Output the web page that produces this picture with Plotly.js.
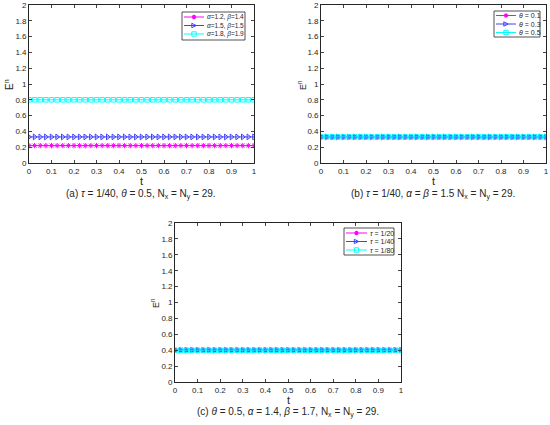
<!DOCTYPE html>
<html>
<head>
<meta charset="utf-8">
<script src="https://cdn.plot.ly/plotly-3.0.1.min.js"></script>
<style>html,body{margin:0;padding:0;background:#fff;}#chart{width:550px;height:425px;}</style>
</head>
<body>
<div id="chart"></div>
<script>
// time grid t (tau = 1/40)
const t = [0,0.025,0.05,0.075,0.1,0.125,0.15,0.175,0.2,0.225,0.25,0.275,0.3,0.325,0.35,0.375,0.4,0.425,0.45,0.475,0.5,0.525,0.55,0.575,0.6,0.625,0.65,0.675,0.7,0.725,0.75,0.775,0.8,0.825,0.85,0.875,0.9,0.925,0.95,0.975,1];

// (a) alpha/beta variations
const aE1 = [0.22,0.22,0.22,0.22,0.22,0.22,0.22,0.22,0.22,0.22,0.22,0.22,0.22,0.22,0.22,0.22,0.22,0.22,0.22,0.22,0.22,0.22,0.22,0.22,0.22,0.22,0.22,0.22,0.22,0.22,0.22,0.22,0.22,0.22,0.22,0.22,0.22,0.22,0.22,0.22,0.22];
const aE2 = [0.33,0.33,0.33,0.33,0.33,0.33,0.33,0.33,0.33,0.33,0.33,0.33,0.33,0.33,0.33,0.33,0.33,0.33,0.33,0.33,0.33,0.33,0.33,0.33,0.33,0.33,0.33,0.33,0.33,0.33,0.33,0.33,0.33,0.33,0.33,0.33,0.33,0.33,0.33,0.33,0.33];
const aE3 = [0.80,0.80,0.80,0.80,0.80,0.80,0.80,0.80,0.80,0.80,0.80,0.80,0.80,0.80,0.80,0.80,0.80,0.80,0.80,0.80,0.80,0.80,0.80,0.80,0.80,0.80,0.80,0.80,0.80,0.80,0.80,0.80,0.80,0.80,0.80,0.80,0.80,0.80,0.80,0.80,0.80];
const aNames = ['<i>α</i>=1.2, <i>β</i>=1.4','<i>α</i>=1.5, <i>β</i>=1.5','<i>α</i>=1.8, <i>β</i>=1.9'];

// (b) theta variations
const bE1 = [0.33,0.33,0.33,0.33,0.33,0.33,0.33,0.33,0.33,0.33,0.33,0.33,0.33,0.33,0.33,0.33,0.33,0.33,0.33,0.33,0.33,0.33,0.33,0.33,0.33,0.33,0.33,0.33,0.33,0.33,0.33,0.33,0.33,0.33,0.33,0.33,0.33,0.33,0.33,0.33,0.33];
const bE2 = [0.33,0.33,0.33,0.33,0.33,0.33,0.33,0.33,0.33,0.33,0.33,0.33,0.33,0.33,0.33,0.33,0.33,0.33,0.33,0.33,0.33,0.33,0.33,0.33,0.33,0.33,0.33,0.33,0.33,0.33,0.33,0.33,0.33,0.33,0.33,0.33,0.33,0.33,0.33,0.33,0.33];
const bE3 = [0.33,0.33,0.33,0.33,0.33,0.33,0.33,0.33,0.33,0.33,0.33,0.33,0.33,0.33,0.33,0.33,0.33,0.33,0.33,0.33,0.33,0.33,0.33,0.33,0.33,0.33,0.33,0.33,0.33,0.33,0.33,0.33,0.33,0.33,0.33,0.33,0.33,0.33,0.33,0.33,0.33];
const bNames = ['<i>θ</i> = 0.1','<i>θ</i> = 0.3','<i>θ</i> = 0.5'];

// (c) tau variations
const cE1 = [0.40,0.40,0.40,0.40,0.40,0.40,0.40,0.40,0.40,0.40,0.40,0.40,0.40,0.40,0.40,0.40,0.40,0.40,0.40,0.40,0.40,0.40,0.40,0.40,0.40,0.40,0.40,0.40,0.40,0.40,0.40,0.40,0.40,0.40,0.40,0.40,0.40,0.40,0.40,0.40,0.40];
const cE2 = [0.40,0.40,0.40,0.40,0.40,0.40,0.40,0.40,0.40,0.40,0.40,0.40,0.40,0.40,0.40,0.40,0.40,0.40,0.40,0.40,0.40,0.40,0.40,0.40,0.40,0.40,0.40,0.40,0.40,0.40,0.40,0.40,0.40,0.40,0.40,0.40,0.40,0.40,0.40,0.40,0.40];
const cE3 = [0.40,0.40,0.40,0.40,0.40,0.40,0.40,0.40,0.40,0.40,0.40,0.40,0.40,0.40,0.40,0.40,0.40,0.40,0.40,0.40,0.40,0.40,0.40,0.40,0.40,0.40,0.40,0.40,0.40,0.40,0.40,0.40,0.40,0.40,0.40,0.40,0.40,0.40,0.40,0.40,0.40];
const cNames = ['<i>τ</i> = 1/20','<i>τ</i> = 1/40','<i>τ</i> = 1/80'];

const xTicks = [0,0.1,0.2,0.3,0.4,0.5,0.6,0.7,0.8,0.9,1];
const yTicks = [0,0.2,0.4,0.6,0.8,1,1.2,1.4,1.6,1.8,2];
const captions = [
  '(a) <i>τ</i> = 1/40, <i>θ</i> = 0.5, N<sub>x</sub> = N<sub>y</sub> = 29.',
  '(b) <i>τ</i> = 1/40, <i>α</i> = <i>β</i> = 1.5 N<sub>x</sub> = N<sub>y</sub> = 29.',
  '(c) <i>θ</i> = 0.5, <i>α</i> = 1.4, <i>β</i> = 1.7, N<sub>x</sub> = N<sub>y</sub> = 29.'
];

const W = 550, H = 425;
const INK = '#262626';
const colors = ['#FF00FF','#4040FF','#00FFFF'];
const symbols = ['asterisk-open','triangle-right-open','square-open'];
const msize = [4.5,5,4.5];

function mk(y, i, names, xa, ya){
  return {x:t, y:y, type:'scatter', mode:'lines+markers', name:names[i],
    xaxis:xa, yaxis:ya, showlegend:false, hoverinfo:'skip',
    line:{color:colors[i], width:1},
    marker:{symbol:symbols[i], size:msize[i], color:colors[i], line:{color:colors[i], width:1}}};
}

const data = [
  mk(aE1,0,aNames,'x','y'), mk(aE2,1,aNames,'x','y'), mk(aE3,2,aNames,'x','y'),
  mk(bE1,0,bNames,'x2','y2'), mk(bE2,1,bNames,'x2','y2'), mk(bE3,2,bNames,'x2','y2'),
  mk(cE1,0,cNames,'x3','y3'), mk(cE2,1,cNames,'x3','y3'), mk(cE3,2,cNames,'x3','y3')
];

const fam = '"Liberation Sans", Arial, sans-serif';
function xax(dom, anchor){
  return {domain:dom, anchor:anchor, range:[0,1], tickvals:xTicks, ticktext:xTicks.map(String),
    showline:true, mirror:'ticks', ticks:'inside', ticklen:3, tickwidth:0.8, linecolor:INK, linewidth:0.8,
    showgrid:false, zeroline:false, automargin:false, fixedrange:true, tickfont:{size:8, color:INK, family:fam}};
}
function yax(dom, anchor){
  return {domain:dom, anchor:anchor, range:[0,2], tickvals:yTicks, ticktext:yTicks.map(String),
    showline:true, mirror:'ticks', ticks:'inside', ticklen:3, tickwidth:0.8, linecolor:INK, linewidth:0.8,
    showgrid:false, zeroline:false, automargin:false, fixedrange:true, tickfont:{size:8, color:INK, family:fam}};
}

// pixel -> paper helpers (layout decoration only)
const px = v => v / W, py = v => 1 - v / H;

const annotations = [];
const shapes = [];
function note(text, x, y, size, opts){
  annotations.push(Object.assign({text:text, x:px(x), y:py(y), xref:'paper', yref:'paper', showarrow:false,
    font:{size:size, color:INK, family:fam}, xanchor:'center', yanchor:'middle'}, opts||{}));
}
// captions & axis titles
note(captions[0], 141, 194.5, 10);
note(captions[1], 433, 194.5, 10);
note(captions[2], 288, 412, 10);
note('t', 141, 181, 11);
note('t', 433, 181, 11);
note('t', 288, 399.5, 11);
note('E<sup>n</sup>', 9, 85, 10, {textangle:-90});
note('E<sup>n</sup>', 302, 85, 9, {textangle:-90});
note('E<sup>n</sup>', 155, 303, 9, {textangle:-90});

// marker glyph paths for the legend samples
function glyph(i, cx, cy, r){
  const c = colors[i];
  if(i === 0){
    const d = 'M'+px(cx-r)+','+py(cy)+'L'+px(cx+r)+','+py(cy)+
              'M'+px(cx)+','+py(cy-r)+'L'+px(cx)+','+py(cy+r)+
              'M'+px(cx-r*0.7)+','+py(cy-r*0.7)+'L'+px(cx+r*0.7)+','+py(cy+r*0.7)+
              'M'+px(cx-r*0.7)+','+py(cy+r*0.7)+'L'+px(cx+r*0.7)+','+py(cy-r*0.7);
    shapes.push({type:'path', xref:'paper', yref:'paper', path:d, line:{color:c, width:1.2}});
  } else if(i === 1){
    const d = 'M'+px(cx-r)+','+py(cy-r)+'L'+px(cx+r)+','+py(cy)+'L'+px(cx-r)+','+py(cy+r)+'Z';
    shapes.push({type:'path', xref:'paper', yref:'paper', path:d, line:{color:c, width:1}, fillcolor:'rgba(0,0,0,0)'});
  } else {
    shapes.push({type:'rect', xref:'paper', yref:'paper', x0:px(cx-r), x1:px(cx+r), y0:py(cy-r), y1:py(cy+r),
      line:{color:c, width:1}, fillcolor:'rgba(0,0,0,0)'});
  }
}
function legendBox(names, box, rows, lx0, lx1, tx, fs){
  shapes.push({type:'rect', xref:'paper', yref:'paper', x0:px(box[0]), x1:px(box[1]), y0:py(box[2]), y1:py(box[3]),
    line:{color:INK, width:0.8}, fillcolor:'#fff', layer:'above'});
  rows.forEach((ry, i) => {
    shapes.push({type:'line', xref:'paper', yref:'paper', x0:px(lx0), x1:px(lx1), y0:py(ry), y1:py(ry),
      line:{color:colors[i], width:1}});
    glyph(i, (lx0+lx1)/2, ry, 2.2);
    note(names[i], tx, ry, fs, {xanchor:'left'});
  });
}
legendBox(aNames, [182,245,12,40], [17,25.5,34], 184, 204, 205, 6.5);
legendBox(bNames, [494,540,11,37], [15.5,24,32.5], 496, 516, 517, 7);
legendBox(cNames, [344,394,228,255], [233,241.5,250], 346, 367, 368, 7);

const layout = {
  width:W, height:H, margin:{l:0,r:0,t:0,b:0,pad:0}, paper_bgcolor:'#fff', plot_bgcolor:'#fff',
  font:{family:fam, color:INK}, showlegend:false, dragmode:false, hovermode:false,
  xaxis:xax([29/W,254/W],'y'), yaxis:yax([1-163/H,1-5/H],'x'),
  xaxis2:xax([321/W,546/W],'y2'), yaxis2:yax([1-163/H,1-5/H],'x2'),
  xaxis3:xax([175/W,401/W],'y3'), yaxis3:yax([1-382/H,1-223/H],'x3'),
  shapes:shapes, annotations:annotations
};

Plotly.newPlot('chart', data, layout, {displayModeBar:false, responsive:false});
</script>
</body>
</html>
